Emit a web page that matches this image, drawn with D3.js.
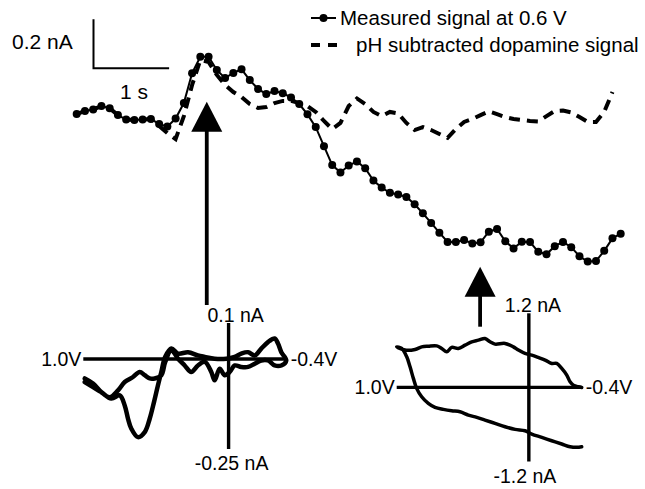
<!DOCTYPE html>
<html><head><meta charset="utf-8">
<script src="https://cdn.jsdelivr.net/npm/d3@7"></script>
<style>body{margin:0;background:#fff}svg text{font-family:"Liberation Sans",Arial,sans-serif;fill:#000}</style>
</head><body>
<svg id="c" width="645" height="489"></svg>
<script>
// ---- data ----
const sampleStep = 0.109; // s between samples
const measured = [0.024,0.037,0.043,0.057,0.048,0.020,0.002,0,0.002,0.004,
  -0.016,-0.027,0.006,0.069,0.191,0.258,0.258,0.204,0.171,0.192,
  0.207,0.163,0.127,0.106,0.118,0.109,0.092,0.065,0.023,-0.029,
  -0.107,-0.184,-0.214,-0.186,-0.169,-0.197,-0.247,-0.276,-0.297,-0.304,
  -0.314,-0.344,-0.381,-0.420,-0.460,-0.498,-0.498,-0.490,-0.504,-0.499,
  -0.456,-0.445,-0.495,-0.524,-0.497,-0.498,-0.538,-0.548,-0.515,-0.498,
  -0.519,-0.556,-0.578,-0.576,-0.534,-0.483,-0.464];
const phSubtracted = [0.024,0.037,0.043,0.057,0.048,0.020,0.002,0,0.002,0.004,
  -0.024,-0.053,-0.078,0.016,0.143,0.245,0.237,0.184,0.143,0.114,
  0.094,0.065,0.049,0.053,0.069,0.078,0.078,0.069,0.057,0.033,
  -0.004,-0.037,-0.012,0.057,0.088,0.065,0.033,0.016,0.033,0.027,
  -0.012,-0.041,-0.029,-0.041,-0.057,-0.073,-0.037,-0.008,0.004,0.020,
  0.035,0.024,0.012,0.004,0,-0.004,-0.006,0.016,0.037,0.039,
  0.031,0.012,-0.008,-0.008,0.033,0.114];
const legendLabels = ["Measured signal at 0.6 V", "pH subtracted dopamine signal"];
const scaleBarValues = [0.2, 1];           // nA, s
const scaleBarLabels = ["0.2 nA", "1 s"];
const arrowTimes = [1.72, 5.335];          // s, where the CVs were taken

// cyclic voltammograms [potential V, current nA]
const cvLeft = [[0.990,-0.064],[0.933,-0.078],[0.876,-0.092],[0.807,-0.110],[0.749,-0.101],[0.715,-0.129],[0.692,-0.166],[0.670,-0.193],[0.624,-0.217],[0.577,-0.203],[0.543,-0.166],[0.513,-0.119],[0.486,-0.073],[0.463,-0.036],[0.436,0.006],[0.394,0.029],
  [0.348,0.015],[0.279,0.019],[0.211,0.010],[0.164,0.006],[0.096,0.001],[0.016,0.001],[-0.042,0.006],[-0.087,0.015],[-0.134,0.019],[-0.180,0.010],[-0.225,0.029],[-0.271,0.047],[-0.317,0.057],[-0.340,0.043],[-0.363,0.019],[-0.397,-0.004],
  [-0.363,-0.018],[-0.317,-0.018],[-0.271,-0.004],[-0.225,-0.004],[-0.180,-0.013],[-0.134,-0.022],[-0.087,-0.022],[-0.042,-0.018],[-0.008,-0.036],[0.027,-0.045],[0.061,-0.027],[0.096,-0.059],[0.119,-0.036],[0.164,-0.008],[0.211,-0.018],[0.257,-0.036],[0.302,-0.018],[0.348,0.001],[0.394,0.024],
  [0.436,-0.008],[0.463,-0.045],[0.509,-0.054],[0.543,-0.054],[0.577,-0.045],[0.612,-0.036],[0.658,-0.050],[0.715,-0.064],[0.761,-0.087],[0.818,-0.106],[0.876,-0.092],[0.933,-0.068],[0.990,-0.054]];
const cvRight = [[-0.400,-0.961],[-0.363,-0.971],[-0.312,-0.961],[-0.249,-0.917],[-0.173,-0.864],[-0.098,-0.809],[-0.022,-0.756],[0.029,-0.702],[0.104,-0.680],[0.180,-0.638],[0.256,-0.583],[0.332,-0.529],[0.394,-0.485],[0.458,-0.448],[0.521,-0.395],[0.584,-0.379],[0.647,-0.356],[0.710,-0.324],[0.761,-0.259],[0.811,-0.152],[0.849,-0.016],[0.874,0.146],[0.899,0.333],[0.924,0.495],[0.962,0.631],
  [1.000,0.657],[0.937,0.604],[0.861,0.615],[0.811,0.657],[0.761,0.668],[0.697,0.673],[0.659,0.631],[0.621,0.576],[0.584,0.647],[0.534,0.631],[0.483,0.684],[0.432,0.738],[0.382,0.765],[0.332,0.793],[0.294,0.738],[0.256,0.701],[0.180,0.712],[0.117,0.657],[0.079,0.604],[0.029,0.550],[-0.022,0.523],[-0.072,0.485],[-0.123,0.442],[-0.173,0.388],[-0.211,0.388],[-0.249,0.307],[-0.287,0.199],[-0.312,0.091],[-0.337,0.037],[-0.375,0.010],[-0.400,0]];
const cvPotentialRange = [1.0, -0.4];
const cvLeftCurrentRange = [0.1, -0.25];
const cvRightCurrentRange = [1.2, -1.2];
const cvLeftLabels = ["1.0V", "-0.4V", "0.1 nA", "-0.25 nA"];
const cvRightLabels = ["1.0V", "-0.4V", "1.2 nA", "-1.2 nA"];

// ---- drawing ----
const svg = d3.select("#c");
svg.append("rect").attr("width",645).attr("height",489).attr("fill","#fff");

const x = d3.scaleLinear().domain([0, 66*sampleStep]).range([76.7, 620.7]);
const y = d3.scaleLinear().domain([0, 0.2]).range([120, 71]);

const line = d3.line().x((d,i)=>x(i*sampleStep)).y(d=>y(d));

svg.append("path").datum(phSubtracted).attr("d", line)
  .attr("fill","none").attr("stroke","#000").attr("stroke-width",4)
  .attr("stroke-dasharray","11,7");

svg.append("path").datum(measured).attr("d", line)
  .attr("fill","none").attr("stroke","#000").attr("stroke-width",2);
svg.append("g").selectAll("circle").data(measured).join("circle")
  .attr("cx",(d,i)=>x(i*sampleStep)).attr("cy",d=>y(d)).attr("r",4).attr("fill","#000");

// scale bar
const sbx = 93.5, sby = 68.3;
const sbLen = y(0) - y(scaleBarValues[0]);
const sbW = x(scaleBarValues[1]) - x(0);
svg.append("path").attr("d",`M${sbx},${sby-sbLen}V${sby}H${sbx+sbW}`)
  .attr("fill","none").attr("stroke","#000").attr("stroke-width",2);
svg.append("text").attr("x",12).attr("y",48.5).attr("font-size",21).text(scaleBarLabels[0]);
svg.append("text").attr("x",120).attr("y",98.5).attr("font-size",21).text(scaleBarLabels[1]);

// legend
const lg = svg.append("g");
lg.append("line").attr("x1",311).attr("x2",336).attr("y1",18).attr("y2",18).attr("stroke","#000").attr("stroke-width",2);
lg.append("circle").attr("cx",323.5).attr("cy",18).attr("r",4).attr("fill","#000");
lg.append("text").attr("x",340).attr("y",25).attr("font-size",20.5).text(legendLabels[0]);
lg.append("line").attr("x1",311).attr("x2",337).attr("y1",45).attr("y2",45).attr("stroke","#000").attr("stroke-width",4).attr("stroke-dasharray","9,8");
lg.append("text").attr("x",356).attr("y",52).attr("font-size",20.5).text(legendLabels[1]);

// arrows
function arrow(t, tipY, baseY, endY){
  const ax = x(t);
  svg.append("line").attr("x1",ax).attr("x2",ax).attr("y1",baseY-2).attr("y2",endY)
    .attr("stroke","#000").attr("stroke-width",3.8);
  svg.append("path").attr("d",`M${ax},${tipY}L${ax+15.5},${baseY}L${ax-15.5},${baseY}Z`).attr("fill","#000");
}
arrow(arrowTimes[0], 101.7, 131.7, 305);
arrow(arrowTimes[1], 266.7, 296.7, 326.7);

// CV insets
function inset(data, xr, yr, currentRange, labels, lw, labelPos){
  const cx = d3.scaleLinear().domain(cvPotentialRange).range(xr);
  const cy = d3.scaleLinear().domain(currentRange).range(yr);
  const g = svg.append("g");
  g.append("line").attr("x1",cx(cvPotentialRange[0])).attr("x2",cx(cvPotentialRange[1]))
    .attr("y1",cy(0)).attr("y2",cy(0)).attr("stroke","#000").attr("stroke-width",3.4);
  g.append("line").attr("x1",cx(0)).attr("x2",cx(0))
    .attr("y1",cy(currentRange[0])).attr("y2",cy(currentRange[1])).attr("stroke","#000").attr("stroke-width",3.4);
  g.append("path").datum(data).attr("d", d3.line().x(d=>cx(d[0])).y(d=>cy(d[1])).curve(d3.curveCatmullRom))
    .attr("fill","none").attr("stroke","#000").attr("stroke-width",lw).attr("stroke-linejoin","round").attr("stroke-linecap","round");
  const fs = 19.5;
  g.append("text").attr("x",cx(cvPotentialRange[0])-2).attr("y",cy(0)+7).attr("text-anchor","end").attr("font-size",fs).text(labels[0]);
  g.append("text").attr("x",cx(cvPotentialRange[1])+4).attr("y",cy(0)+7).attr("font-size",fs).text(labels[1]);
  g.append("text").attr("x",cx(0)+labelPos[0]).attr("y",cy(currentRange[0])-1.5).attr("text-anchor","middle").attr("font-size",fs).text(labels[2]);
  g.append("text").attr("x",cx(0)+labelPos[1]).attr("y",cy(currentRange[1])+21).attr("text-anchor","middle").attr("font-size",fs).text(labels[3]);
}
inset(cvLeft, [83.3, 286.7], [323, 449], cvLeftCurrentRange, cvLeftLabels, 4.5, [7, 3]);
inset(cvRight, [396.7, 581.7], [313.3, 461.5], cvRightCurrentRange, cvRightLabels, 3.5, [4, -4]);
</script>
</body></html>
